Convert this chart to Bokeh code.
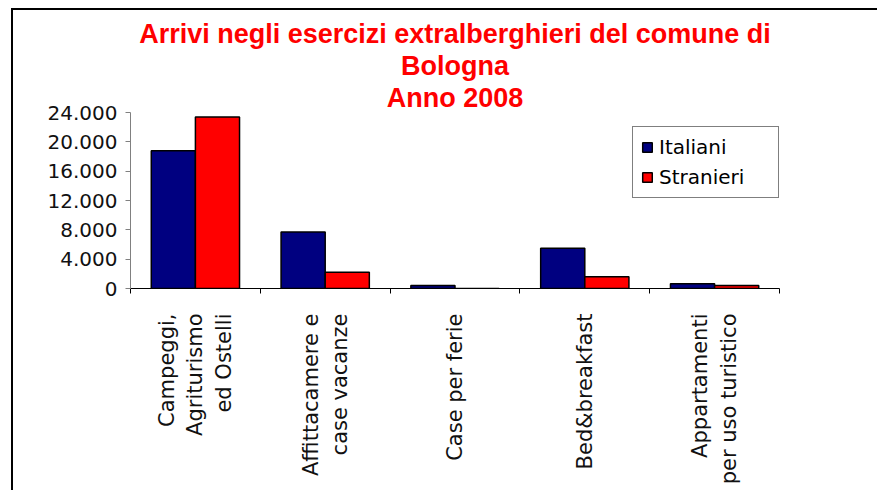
import math
from bokeh.plotting import figure
from bokeh.models import FixedTicker, Range1d, ColumnDataSource, Title
from bokeh.embed import file_html
from bokeh.resources import INLINE

# ---- data ----
categories = ["Campeggi,\nAgriturismo\ned Ostelli",
              "Affittacamere e\ncase vacanze",
              "Case per ferie",
              "Bed&breakfast",
              "Appartamenti\nper uso turistico"]
italiani = [18800, 7700, 400, 5500, 650]
stranieri = [23400, 2200, 0, 1600, 400]
y_ticks = [0, 4000, 8000, 12000, 16000, 20000, 24000]
y_tick_labels = ["0", "4.000", "8.000", "12.000", "16.000", "20.000", "24.000"]
title_lines = ["Arrivi negli esercizi extralberghieri del comune di", "Bologna", "Anno 2008"]

n = len(categories)
centers = [i + 0.5 for i in range(n)]
bw = 0.34
src = ColumnDataSource(dict(
    x_it=[c - bw / 2 for c in centers],
    x_st=[c + bw / 2 for c in centers],
    it=italiani, st=stranieri))

p = figure(width=866, height=482, output_backend="svg", toolbar_location=None,
           x_range=Range1d(0, n), y_range=Range1d(0, 24000), title=None,
           min_border_left=117, min_border_right=100,
           min_border_top=102, min_border_bottom=204)
p.styles = {"border-left": "2px solid #000", "border-top": "2px solid #000",
            "margin-left": "11px", "margin-top": "8px"}

# title lines, stacked from the frame upward
for line in reversed(title_lines):
    t = Title(text=line, align="center", text_color="#FF0000",
              text_font="Liberation Sans", text_font_style="bold",
              text_font_size="27px", standoff=0, offset=0)
    p.add_layout(t, "above")

p.vbar(x="x_it", top="it", width=bw, source=src, fill_color="#000080",
       line_color="black", line_width=1.5, legend_label="Italiani")
p.vbar(x="x_st", top="st", width=bw, source=src, fill_color="#FF0000",
       line_color="black", line_width=1.5, legend_label="Stranieri")

p.xgrid.visible = False
p.ygrid.visible = False
p.outline_line_color = None
p.background_fill_color = "white"
p.border_fill_color = "white"

# y axis
ya = p.yaxis[0]
ya.ticker = FixedTicker(ticks=y_ticks)
ya.major_label_overrides = {t: l for t, l in zip(y_ticks, y_tick_labels)}
ya.axis_line_color = "#808080"
ya.major_tick_line_color = "#808080"
ya.major_tick_out = 5
ya.major_tick_in = 0
ya.minor_tick_line_color = None
ya.major_label_text_font = "DejaVu Sans"
ya.major_label_text_font_size = "20px"
ya.major_label_text_color = "#111111"
ya.major_label_standoff = 8

# x axis
xa = p.xaxis[0]
xa.ticker = FixedTicker(ticks=centers, minor_ticks=list(range(n + 1)))
xa.major_label_overrides = {c: l for c, l in zip(centers, categories)}
xa.major_label_orientation = math.pi / 2
xa.axis_line_color = "black"
xa.major_tick_line_color = None
xa.major_tick_out = 0
xa.major_tick_in = 0
xa.minor_tick_line_color = "black"
xa.minor_tick_out = 5
xa.minor_tick_in = 0
xa.major_label_text_font = "DejaVu Sans"
xa.major_label_text_font_size = "21px"
xa.major_label_text_color = "#111111"
xa.major_label_standoff = 20

# legend
lg = p.legend[0]
lg.location = (502, 90)
lg.border_line_color = "black"
lg.border_line_width = 1
lg.background_fill_color = "white"
lg.background_fill_alpha = 1
lg.label_text_font = "DejaVu Sans"
lg.label_text_font_size = "20px"
lg.label_text_color = "black"
lg.glyph_width = 12
lg.glyph_height = 12
lg.label_standoff = 6
lg.label_height = 22
lg.label_width = 111
lg.padding = 8
lg.spacing = 6
lg.margin = 0

open("out.html", "w").write(file_html(p, INLINE))
